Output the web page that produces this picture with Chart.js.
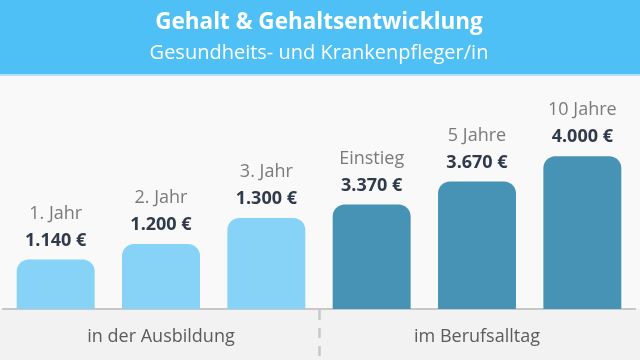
<!DOCTYPE html>
<html>
<head>
<meta charset="utf-8">
<script src="https://cdn.jsdelivr.net/npm/chart.js@4/dist/chart.umd.min.js"></script>
<style>
  html, body { margin: 0; padding: 0; background: #f9f9f9; overflow: hidden; }
  canvas { display: block; }
</style>
</head>
<body>
<canvas id="gehaltChart" width="640" height="360"></canvas>
<script>
// Data
var categories = ['1. Jahr', '2. Jahr', '3. Jahr', 'Einstieg', '5 Jahre', '10 Jahre'];
var ausbildung = [1140, 1200, 1300, null, null, null];   // in der Ausbildung
var beruf = [null, null, null, 3370, 3670, 4000];        // im Berufsalltag
var phases = ['in der Ausbildung', 'im Berufsalltag'];

var FONT = "'Open Sans', sans-serif";

// German number format, e.g. 1.140 €
function euro(v) {
    return String(v).replace(/\B(?=(\d{3})+(?!\d))/g, '.') + ' €';
}

// Background bands: blue header and grey footer
var backgroundPlugin = {
    id: 'bands',
    beforeDraw: function (chart) {
        var c = chart.ctx, w = chart.width, h = chart.height;
        c.save();
        c.fillStyle = '#f9f9f9';
        c.fillRect(0, 0, w, h);
        c.fillStyle = '#4fc0f6';
        c.fillRect(0, 0, w, 74);
        c.fillStyle = '#b3e1f7';
        c.fillRect(0, 74, w, 2);
        c.fillStyle = '#f2f2f2';
        c.fillRect(0, chart.chartArea.bottom, w, h - chart.chartArea.bottom);
        c.restore();
    }
};

// Year label and amount above every bar
var barLabelPlugin = {
    id: 'barLabels',
    afterDatasetsDraw: function (chart) {
        var c = chart.ctx;
        c.save();
        c.textAlign = 'center';
        c.textBaseline = 'middle';
        chart.data.datasets.forEach(function (ds, di) {
            var meta = chart.getDatasetMeta(di);
            meta.data.forEach(function (bar, i) {
                if (ds.data[i] == null) return;
                c.fillStyle = '#7a7a7a';
                c.font = '18px ' + FONT;
                c.fillText(categories[i], bar.x, bar.y - 46);
                c.fillStyle = '#2f3a4a';
                c.font = 'bold 18px ' + FONT;
                c.fillText(euro(ds.data[i]), bar.x, bar.y - 19);
            });
        });
        c.restore();
    }
};

var ctx = document.getElementById('gehaltChart').getContext('2d');

var gehaltChart = new Chart(ctx, {
    type: 'bar',
    data: {
        labels: categories,
        datasets: [{
            label: phases[0],
            data: ausbildung,
            yAxisID: 'yL',
            backgroundColor: '#87d2f7'
        }, {
            label: phases[1],
            data: beruf,
            yAxisID: 'yR',
            backgroundColor: '#4793b6'
        }]
    },
    options: {
        responsive: false,
        animation: false,
        layout: { padding: { left: 3, right: 5, top: 0, bottom: 0 } },
        datasets: {
            bar: {
                grouped: false,
                categoryPercentage: 1,
                barPercentage: 0.74,
                borderRadius: 12,
                borderSkipped: 'bottom'
            }
        },
        plugins: {
            legend: { display: false },
            tooltip: { enabled: false },
            title: {
                display: true,
                text: 'Gehalt & Gehaltsentwicklung',
                color: '#ffffff',
                font: { family: FONT, size: 22.5, weight: 'bold', lineHeight: 1.2 },
                padding: { top: 9, bottom: 0 }
            },
            subtitle: {
                display: true,
                text: 'Gesundheits- und Krankenpfleger/in',
                color: '#ffffff',
                font: { family: FONT, size: 20, lineHeight: 1.2 },
                padding: { top: 5.5, bottom: 14.5 }
            }
        },
        scales: {
            x: { display: false },
            // the two phases along the bottom, split by a dashed line
            xg: {
                type: 'category',
                labels: phases,
                position: 'bottom',
                offset: true,
                border: { display: true, color: '#c8c8c8', width: 2 },
                grid: {
                    offset: true,
                    drawOnChartArea: false,
                    drawTicks: true,
                    tickLength: 51,
                    tickWidth: 2.5,
                    tickBorderDash: [10, 8],
                    tickColor: function (c) { return c.index === 1 ? '#c8c8c8' : 'rgba(0,0,0,0)'; },
                    color: function (c) { return c.index === 1 ? '#c8c8c8' : 'rgba(0,0,0,0)'; }
                },
                ticks: {
                    color: '#5b5b5b',
                    font: { family: FONT, size: 18 },
                    padding: -34,
                    maxRotation: 0
                },
                afterFit: function (scale) { scale.height = 51; }
            },
            yL: { display: false, min: 950, max: 1830 },
            yR: { display: false, min: 2000, max: 5000 }
        }
    },
    plugins: [backgroundPlugin, barLabelPlugin]
});
</script>
</body>
</html>
